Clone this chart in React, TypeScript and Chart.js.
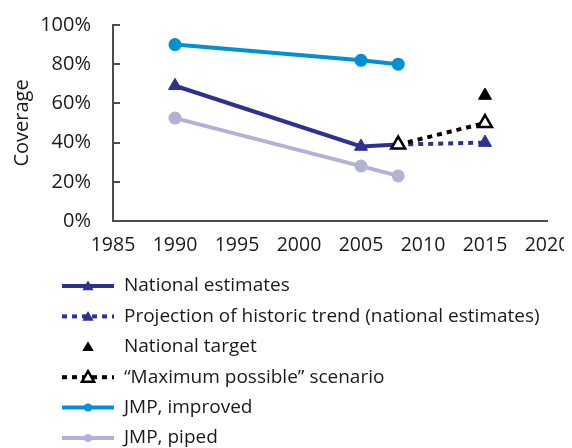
import React, { useEffect, useRef } from "react";
import { Chart, registerables } from "chart.js";

Chart.register(...registerables);

const NAVY = "#2E3192";
const CYAN = "#0091D5";
const LAV = "#B3B1D6";
const AXIS = "#4d4d4d";
const FONT = "'Open Sans', sans-serif";

const natYears = [1990, 2005, 2008];
const natValues = [69, 38, 39];
const projYears = [2008, 2015];
const projValues = [39, 40];
const targetYears = [2015];
const targetValues = [64];
const maxYears = [2008, 2015];
const maxValues = [39, 50];
const jmpYears = [1990, 2005, 2008];
const jmpImproved = [90, 82, 80];
const jmpPiped = [52.5, 28, 23];
const xTicks = [1985, 1990, 1995, 2000, 2005, 2010, 2015, 2020];
const yTicks = [0, 20, 40, 60, 80, 100];

const legendItems = [
  { label: "National estimates", color: NAVY, dash: [] as number[], marker: "tri", fill: NAVY, line: true },
  { label: "Projection of historic trend (national estimates)", color: NAVY, dash: [5, 5], marker: "tri", fill: NAVY, line: true },
  { label: "National target", color: "#000", dash: [] as number[], marker: "tri", fill: "#000", line: false },
  { label: "\u201CMaximum possible\u201D scenario", color: "#000", dash: [5, 5], marker: "trio", fill: "#fff", line: true },
  { label: "JMP, improved", color: CYAN, dash: [] as number[], marker: "circ", fill: CYAN, line: true },
  { label: "JMP, piped", color: LAV, dash: [] as number[], marker: "circ", fill: LAV, line: true },
];

const pts = (xs: number[], ys: number[]) => xs.map((x, i) => ({ x, y: ys[i] }));

const tickPlugin = {
  id: "innerTicks",
  afterDatasetsDraw(chart: any) {
    const ctx = chart.ctx as CanvasRenderingContext2D;
    const y = chart.scales.y;
    const left = chart.chartArea.left;
    ctx.save();
    ctx.strokeStyle = AXIS;
    ctx.lineWidth = 2;
    yTicks.forEach((v) => {
      if (v === 0) return;
      const py = Math.round(y.getPixelForValue(v));
      ctx.beginPath();
      ctx.moveTo(left, py);
      ctx.lineTo(left + 7, py);
      ctx.stroke();
    });
    ctx.restore();
  },
};

const legendPlugin = {
  id: "customLegend",
  afterDraw(chart: any) {
    const ctx = chart.ctx as CanvasRenderingContext2D;
    const x0 = 54, x1 = 106, xm = 80, tx = 116;
    const yStart = 278, step = 30.4;
    ctx.save();
    legendItems.forEach((it, i) => {
      const y = yStart + i * step;
      if (it.line) {
        ctx.beginPath();
        ctx.strokeStyle = it.color;
        ctx.lineWidth = 4;
        ctx.setLineDash(it.dash);
        ctx.moveTo(x0, y);
        ctx.lineTo(x1, y);
        ctx.stroke();
        ctx.setLineDash([]);
      }
      if (it.marker === "circ") {
        ctx.beginPath();
        ctx.fillStyle = it.fill;
        ctx.arc(xm, y, 4, 0, Math.PI * 2);
        ctx.fill();
      } else {
        const r = it.marker === "trio" ? 7 : 6.5;
        ctx.beginPath();
        for (let k = 0; k < 3; k++) {
          const a = (k * 2 * Math.PI) / 3;
          const px = xm + Math.sin(a) * r;
          const py = y + 1 - Math.cos(a) * r;
          if (k === 0) ctx.moveTo(px, py);
          else ctx.lineTo(px, py);
        }
        ctx.closePath();
        ctx.fillStyle = it.fill;
        ctx.fill();
        if (it.marker === "trio") {
          ctx.strokeStyle = "#000";
          ctx.lineWidth = 2.5;
          ctx.stroke();
        }
      }
      ctx.fillStyle = "#1a1a1a";
      ctx.font = `19px ${FONT}`;
      ctx.textBaseline = "middle";
      ctx.textAlign = "left";
      ctx.fillText(it.label, tx, y);
    });
    ctx.restore();
  },
};

export default function App() {
  const ref = useRef<HTMLCanvasElement>(null);
  useEffect(() => {
    document.documentElement.style.overflow = "hidden";
    if (!ref.current) return;
    const chart = new Chart(ref.current, {
      type: "line",
      data: {
        datasets: [
          {
            label: "Maximum possible",
            data: pts(maxYears, maxValues),
            borderColor: "#000",
            borderWidth: 4,
            borderDash: [5, 5],
            pointStyle: "triangle",
            pointRadius: 8,
            pointBackgroundColor: "#fff",
            pointBorderColor: "#000",
            pointBorderWidth: 2.5,
            order: 0,
          },
          {
            label: "National target",
            data: pts(targetYears, targetValues),
            showLine: false,
            pointStyle: "triangle",
            pointRadius: 7.5,
            pointBackgroundColor: "#000",
            pointBorderColor: "#000",
            pointBorderWidth: 1,
            order: 1,
          },
          {
            label: "Projection",
            data: pts(projYears, projValues),
            borderColor: NAVY,
            borderWidth: 4,
            borderDash: [5, 5],
            pointStyle: "triangle",
            pointRadius: [0, 7.5],
            pointBackgroundColor: NAVY,
            pointBorderColor: NAVY,
            pointBorderWidth: 1,
            order: 2,
          },
          {
            label: "National estimates",
            data: pts(natYears, natValues),
            borderColor: NAVY,
            borderWidth: 4,
            pointStyle: "triangle",
            pointRadius: 7.5,
            pointBackgroundColor: NAVY,
            pointBorderColor: NAVY,
            pointBorderWidth: 1,
            order: 3,
          },
          {
            label: "JMP, improved",
            data: pts(jmpYears, jmpImproved),
            borderColor: CYAN,
            borderWidth: 4,
            pointStyle: "circle",
            pointRadius: 4.5,
            pointBackgroundColor: CYAN,
            pointBorderColor: CYAN,
            order: 4,
          },
          {
            label: "JMP, piped",
            data: pts(jmpYears, jmpPiped),
            borderColor: LAV,
            borderWidth: 4,
            pointStyle: "circle",
            pointRadius: 4.5,
            pointBackgroundColor: LAV,
            pointBorderColor: LAV,
            order: 5,
          },
        ] as any,
      },
      options: {
        animation: false,
        responsive: false,
        layout: { padding: { top: 17, right: 25, bottom: 190, left: 0 } },
        plugins: { legend: { display: false }, tooltip: { enabled: false } },
        scales: {
          x: {
            type: "linear",
            min: 1985,
            max: 2020,
            afterBuildTicks: (s: any) => {
              s.ticks = xTicks.map((v) => ({ value: v }));
            },
            afterFit: (s: any) => {
              s.height = 37;
              s.paddingLeft = 0;
              s.paddingRight = 0;
              s.paddingTop = 0;
              s.paddingBottom = 0;
            },
            grid: { display: false },
            border: { display: true, color: AXIS, width: 2 },
            ticks: {
              color: "#1a1a1a",
              font: { size: 19.5, family: FONT },
              padding: 5,
              maxRotation: 0,
              callback: (v: any) => String(v),
            },
          },
          y: {
            min: 0,
            max: 100,
            afterBuildTicks: (s: any) => {
              s.ticks = yTicks.map((v) => ({ value: v }));
            },
            afterFit: (s: any) => {
              s.width = 105;
              s.paddingTop = 0;
              s.paddingBottom = 0;
              s.paddingLeft = 0;
              s.paddingRight = 0;
            },
            grid: { display: false },
            border: { display: true, color: AXIS, width: 2 },
            title: {
              display: true,
              text: "Coverage",
              color: "#1a1a1a",
              font: { size: 20, family: FONT },
              padding: { top: 2, bottom: 0 },
            },
            ticks: {
              color: "#1a1a1a",
              font: { size: 20, family: FONT },
              padding: 14,
              callback: (v: any) => v + "%",
            },
          },
        },
      },
      plugins: [tickPlugin, legendPlugin],
    });
    return () => chart.destroy();
  }, []);
  return <canvas ref={ref} width={564} height={440} style={{ display: "block" }} />;
}
